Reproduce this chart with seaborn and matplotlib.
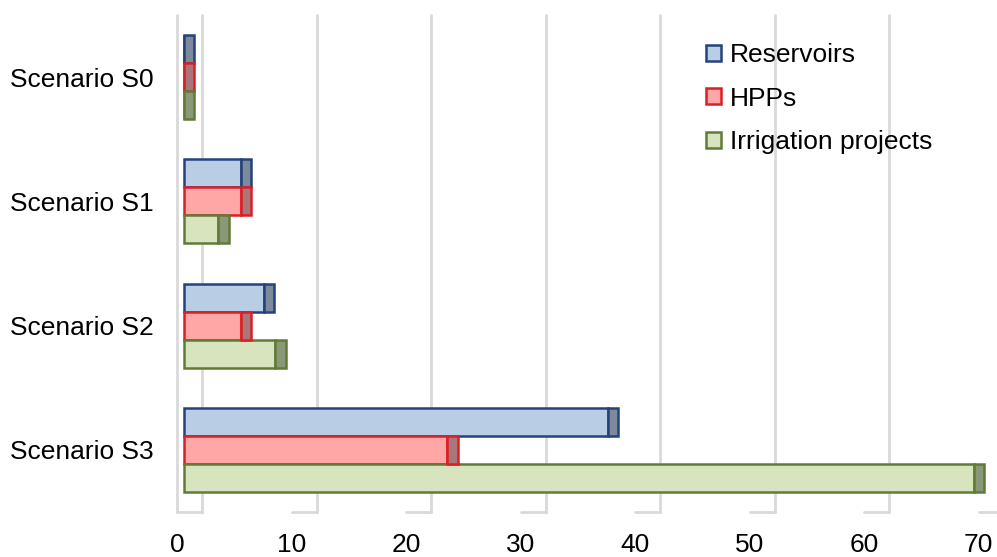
import matplotlib
matplotlib.use("Agg")
import matplotlib.pyplot as plt
from matplotlib.patches import Patch, Rectangle
import seaborn as sns
import pandas as pd

# Values per scenario and project type
categories = ["Scenario S0", "Scenario S1", "Scenario S2", "Scenario S3"]
series_names = ["Reservoirs", "HPPs", "Irrigation projects"]
reservoirs = [0, 5, 7, 37]
hpps = [0, 5, 5, 23]
irrigation = [0, 3, 8, 69]
x_ticks = [0, 10, 20, 30, 40, 50, 60, 70]

face_colors = ["#B9CDE5", "#FFA6A6", "#D7E4BD"]
edge_colors = ["#24427C", "#DC1F26", "#617A38"]
end_colors = ["#7D8A9B", "#A9777A", "#8B9877"]

df = pd.DataFrame({
    "Scenario": categories * 3,
    "Value": reservoirs + hpps + irrigation,
    "Type": [s for s in series_names for _ in categories],
})

sns.set_theme(style="white")
plt.rcParams["font.family"] = ["Liberation Sans", "DejaVu Sans"]
plt.rcParams["text.color"] = "#000000"

W, H = 997, 557
fig = plt.figure(figsize=(W / 100, H / 100), dpi=100)
ax = fig.add_axes([177 / W, (H - 512) / H, (W - 177) / W, 497 / H])

sns.barplot(data=df, y="Scenario", x="Value", hue="Type", orient="h",
            order=categories, hue_order=series_names,
            palette=face_colors, width=0.675, ax=ax, legend=False,
            saturation=1, zorder=3)

# pseudo-3D: bars sit partway into the depth; the end face shows at the right
depth_front = 0.6     # offset of the bar front face
depth_cap = 0.9       # projected width of the bar end face
depth_back = 2.2      # offset of the back wall

for i, cont in enumerate(ax.containers):
    for bar in cont:
        bar.set_x(bar.get_x() + depth_front)
        bar.set_edgecolor(edge_colors[i])
        bar.set_linewidth(1.8)
        end = Rectangle((bar.get_x() + bar.get_width(), bar.get_y()),
                        depth_cap, bar.get_height(),
                        facecolor=end_colors[i], edgecolor=edge_colors[i],
                        linewidth=1.8, zorder=3)
        ax.add_patch(end)

ax.set_xlim(0, (W - 177) / 11.45)
ax.set_ylim(3.5, -0.5)

grid_kw = dict(color="#D9D9D9", linewidth=2, zorder=0, clip_on=False)
ymin, ymax = 3.5, -0.5
for t in x_ticks:
    xb = t + depth_back
    if xb < ax.get_xlim()[1]:
        ax.plot([xb, xb], [ymin, ymax], **grid_kw)
    ax.plot([t, min(xb, ax.get_xlim()[1])], [ymin, ymin], **grid_kw)
ax.plot([0, 0], [ymin, ymax], **grid_kw)

for s in ax.spines.values():
    s.set_visible(False)

ax.set_xticks(x_ticks)
ax.set_xticklabels([str(t) for t in x_ticks])
ax.set_xlabel("")
ax.set_ylabel("")
ax.tick_params(axis="x", length=0, pad=15, labelsize=19, colors="#000000")
ax.tick_params(axis="y", length=0, pad=17, labelsize=19, colors="#000000")

handles = [Patch(facecolor=face_colors[i], edgecolor=edge_colors[i],
                 linewidth=1.8, label=series_names[i]) for i in range(3)]
fig.legend(handles=handles, loc="upper left",
           bbox_to_anchor=(706 / W, 1 - 43 / H), frameon=False,
           fontsize=19, handlelength=0.55, handleheight=0.55,
           handletextpad=0.35, labelspacing=0.74, borderpad=0,
           borderaxespad=0, labelcolor="#000000")

fig.savefig("out.png", dpi=100)
